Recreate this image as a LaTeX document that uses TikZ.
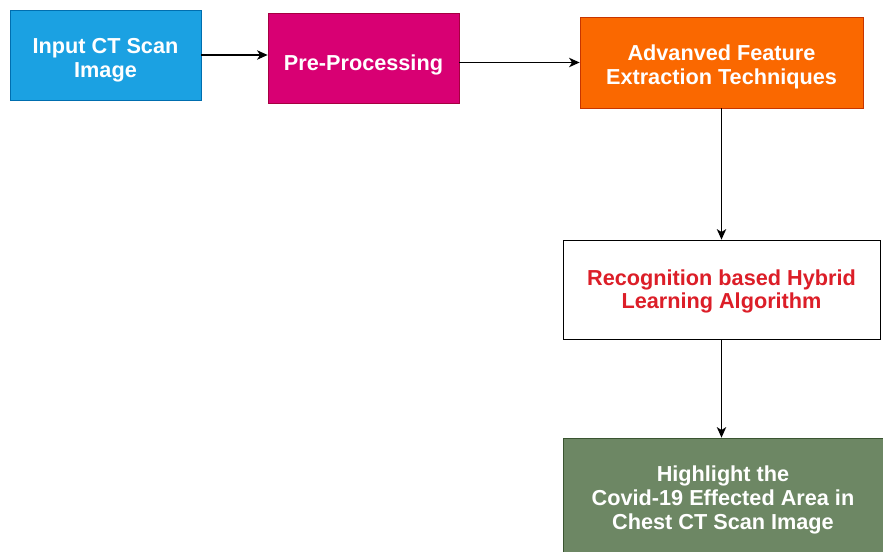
\documentclass[tikz,border=0pt]{standalone}
\usepackage{fontspec}
\setmainfont{Liberation Sans}
\usepackage{tikz}
\usetikzlibrary{arrows.meta, shapes}

\definecolor{kastenblau}{HTML}{1BA1E2}
\definecolor{randblau}{HTML}{006EAF}
\definecolor{kastenmagenta}{HTML}{D80073}
\definecolor{randmagenta}{HTML}{A50040}
\definecolor{kastenorange}{HTML}{FA6800}
\definecolor{randorange}{HTML}{C73500}
\definecolor{kastengruen}{HTML}{6D8764}
\definecolor{randgruen}{HTML}{3A5431}
\definecolor{textrot}{HTML}{DC1E28}

\begin{document}
\begin{tikzpicture}[x=0.03cm, y=-0.03cm,
			>={Stealth[length=9pt, width=8pt, inset=2.5pt]},   %Voreinstellung für Pfeilspitzen
			box/.style={rectangle, draw, line width=0.6pt, align=center, inner sep=2pt,
				font=\fontsize{18.5}{20.5}\selectfont\bfseries, text=white,
				text depth=0pt},
			pfeil/.style={->, line width=1.1pt, black}]
			%Bildbereich festlegen
			\useasboundingbox (0,0) rectangle (883,552);
			% Kästen zeichnen
			\node[box, fill=kastenblau, draw=randblau, minimum width=5.73cm, minimum height=2.7cm, text height=38.5pt] (input) at (105.5,55) {Input CT Scan\\Image};
			\node[box, fill=kastenmagenta, draw=randmagenta, minimum width=5.73cm, minimum height=2.7cm, text height=21.5pt] (pre) at (363.5,58) {Pre-Processing};
			\node[box, fill=kastenorange, draw=randorange, minimum width=8.49cm, minimum height=2.73cm, text height=37.5pt] (feat) at (721.5,62.5) {Advanved Feature\\Extraction Techniques};
			\node[box, fill=white, draw=black, text=textrot, font=\fontsize{18.5}{19.5}\selectfont\bfseries, minimum width=9.51cm, minimum height=2.97cm] (reco) at (721.5,289.5) {Recognition based Hybrid\\Learning Algorithm};
			\node[box, fill=kastengruen, draw=randgruen, minimum width=9.6cm, minimum height=3.6cm] (high) at (723,498) {Highlight the\\Covid-19 Effected Area in\\Chest CT Scan Image};
			% Pfeile zeichnen
			\draw[pfeil] (input.east) -- (input.east -| pre.west);
			\draw[pfeil] (pre.east |- feat.west) -- (feat.west);
			\draw[pfeil] (feat) -- (reco);
			\draw[pfeil] (reco.south) -- (reco.south |- high.north);
		\end{tikzpicture}
\end{document}
